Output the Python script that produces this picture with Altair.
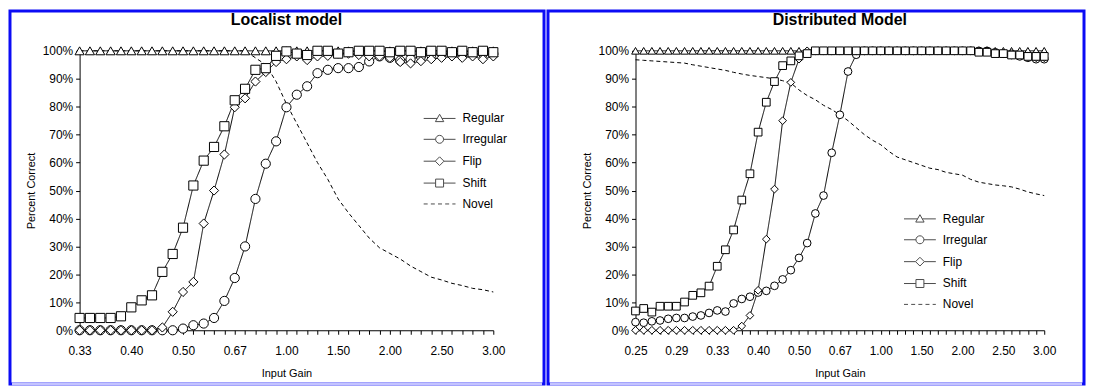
import altair as alt
import pandas as pd

SERIES = ["Regular", "Irregular", "Flip", "Shift", "Novel"]

# x categories: input gain steps (reciprocal steps of 0.1 below 1, steps of 0.1 above 1)
left_gain = [f"{1 / (3.0 - 0.1 * k):.3f}" for k in range(20)] + [f"{1.0 + 0.1 * k:.3f}" for k in range(21)]
right_gain = [f"{1 / (4.0 - 0.1 * k):.3f}" for k in range(30)] + [f"{1.0 + 0.1 * k:.3f}" for k in range(21)]
left_tick_labels = ["0.333", "0.400", "0.500", "0.667", "1.000", "1.500", "2.000", "2.500", "3.000"]
right_tick_labels = ["0.250", "0.286", "0.333", "0.400", "0.500", "0.667", "1.000", "1.500", "2.000", "2.500", "3.000"]

# ---- Localist model (41 points) ----
loc_regular = [100, 100, 100, 100, 100, 100, 100, 100, 100, 100,
               100, 100, 100, 100, 100, 100, 100, 100, 100, 100,
               100, 100, 100, 100, 100, 100, 100, 100, 100, 100,
               100, 100, 100, 100, 100, 100, 100, 100, 100, 100, 100]
loc_irregular = [0, 0, 0, 0, 0, 0, 0, 0, 0, 0,
                 0.6, 1.8, 2.4, 4.4, 10.5, 18.7, 30, 47, 59.6, 67.6,
                 79.8, 84.3, 87.3, 92, 93.2, 93.8, 93.8, 94.2, 96.2, 98,
                 97.5, 96.5, 97, 98, 98.5, 99, 99, 98.5, 99, 99, 99]
loc_flip = [0, 0, 0, 0, 0, 0, 0, 0, 1, 6.6,
            13.7, 17.3, 38.2, 50, 62.9, 79.8, 83, 89, 92.4, 96,
            97, 98, 96.7, 98, 98.2, 99, 99, 98.5, 98, 98,
            97.5, 96, 95.5, 96.3, 97, 97.5, 98, 97.5, 98, 97, 98]
loc_shift = [4.4, 4.4, 4.4, 4.4, 5, 8.2, 10.7, 12.5, 20.9, 27.3,
             36.7, 51.8, 60.7, 65.6, 73, 82.3, 86.4, 93.2, 93.8, 98.2,
             99.8, 99, 98.5, 100, 100, 99, 99.5, 100, 100, 100,
             99.5, 100, 100, 99.5, 100, 100, 99.5, 100, 99.5, 100, 99.5]
loc_novel = [100, 100, 100, 100, 100, 100, 100, 100, 100, 100,
             100, 100, 100, 100, 100, 100, 100, 97.5, 95, 89,
             81, 74, 67, 60, 54, 47, 42, 37.5, 33, 29.5,
             27.5, 25.5, 23, 21, 19, 18, 16.8, 16, 15, 14.5, 13.7]

# ---- Distributed model (51 points) ----
dis_regular = [100, 100, 100, 100, 100, 100, 100, 100, 100, 100,
               100, 100, 100, 100, 100, 100, 100, 100, 100, 100,
               100, 100, 100, 100, 100, 100, 100, 100, 100, 100,
               100, 100, 100, 100, 100, 100, 100, 100, 100, 100,
               100, 100, 100, 100, 100, 100, 100, 100, 100, 100, 100]
dis_irregular = [2.9, 2.7, 3.2, 3.5, 4.1, 4.4, 4.4, 4.9, 5.3, 6.2,
                 7.1, 6.7, 9.6, 11.2, 12, 13.5, 14.1, 15.9, 18.2, 21.5,
                 25.9, 31.2, 41.8, 48.2, 63.5, 77.1, 92.6, 98.6, 100, 100,
                 100, 100, 100, 100, 100, 100, 100, 100, 100, 100,
                 100, 100, 100, 100, 99.5, 99, 98.5, 98, 97.5, 97, 97]
dis_flip = [0, 0, 0, 0, 0, 0, 0, 0, 0, 0,
            0, 0, 0, 1.5, 5.3, 14.3, 32.6, 50.5, 75, 88.7,
            97, 100, 100, 100, 100, 100, 100, 100, 100, 100,
            100, 100, 100, 100, 100, 100, 100, 100, 100, 100,
            100, 100, 100, 100, 99.5, 99, 99, 98.5, 98, 97.5, 97.5]
dis_shift = [6.9, 7.8, 6.5, 8.6, 8.6, 8.6, 10.1, 12.5, 13.4, 15.8,
             22.9, 28.8, 35.9, 46.6, 56, 70.9, 81.6, 89, 94.7, 96.4,
             98.2, 99, 100, 100, 100, 100, 100, 100, 100, 100,
             100, 100, 100, 100, 100, 100, 100, 100, 100, 100,
             100, 100, 99.5, 99.5, 99, 99, 98.5, 98.5, 98, 98, 98]
dis_novel = [96.8, 96.6, 96.4, 96.2, 96, 95.8, 95.6, 95, 94.5, 94,
             93.5, 93, 92.3, 91.7, 91.2, 90.8, 90.4, 90, 89.3, 88.5,
             86, 84, 82.5, 80.5, 79, 77.1, 75, 72.5, 70, 68,
             66.4, 64, 62, 61, 60, 59, 58, 57.5, 56.5, 56,
             55.5, 54, 53, 52.5, 52, 51.7, 51.3, 50.5, 49.5, 48.8, 48.2]

FONT = "Liberation Sans"
BLUE = "#0c0cf5"
PALE = "#c4c4ff"

# legend symbols: a line with the series marker in its middle (unit coordinates)
LEGEND_PATHS = [
    "M-4,0H-0.6M0.6,0H4M0,-1.05L1.05,0.8L-1.05,0.8Z",
    "M-4,0H-1M1,0H4M1,0A1,1,0,1,1,-1,0A1,1,0,1,1,1,0Z",
    "M-4,0H-1.1M1.1,0H4M-1.1,0L0,-1.1L1.1,0L0,1.1Z",
    "M-4,0H-1M1,0H4M-1,-1H1V1H-1Z",
    "M-4,0H-3M-2.2,0H-1.2M-0.4,0H0.6M1.4,0H2.4M3.2,0H4",
]


def long_frame(gains, series_values):
    rows = []
    for name, vals in zip(SERIES, series_values):
        for g, v in zip(gains, vals):
            rows.append({"gain": g, "pct": v, "series": name})
    return pd.DataFrame(rows)


def panel(gains, tick_labels, series_values, title, width, height,
          frame_x, frame_x2, frame_y, frame_y2, leg_x, leg_y, msize):
    df = long_frame(gains, series_values)
    label_list = "[" + ",".join(f"'{t}'" for t in tick_labels) + "]"
    x = alt.X(
        "gain:O",
        scale=alt.Scale(domain=gains, type="point", padding=0),
        axis=alt.Axis(
            title="Input Gain",
            labelAngle=0,
            labelExpr=f"indexof({label_list}, datum.value) >= 0 ? format(toNumber(datum.value), '.2f') : ''",
            labelOverlap=False,
            tickSize=4,
            labelPadding=11,
            titlePadding=12,
        ),
    )
    y = alt.Y(
        "pct:Q",
        scale=alt.Scale(domain=[0, 100], nice=False),
        axis=alt.Axis(
            title="Percent Correct",
            values=[0, 10, 20, 30, 40, 50, 60, 70, 80, 90, 100],
            labelExpr="datum.value + '%'",
            tickSize=4,
            labelPadding=3,
            titlePadding=6,
            grid=False,
        ),
    )
    base = alt.Chart(df)
    lines = base.mark_line(color="black", strokeWidth=1).encode(
        x=x,
        y=y,
        detail="series:N",
        strokeDash=alt.StrokeDash(
            "series:N",
            scale=alt.Scale(domain=SERIES, range=[[1, 0], [1, 0], [1, 0], [1, 0], [4, 3]]),
            legend=None,
        ),
    )
    points = base.transform_filter("datum.series != 'Novel'").mark_point(
        filled=True, fill="white", stroke="black", strokeWidth=1, size=msize, opacity=1
    ).encode(
        x=x,
        y=y,
        shape=alt.Shape(
            "series:N",
            scale=alt.Scale(domain=SERIES[:4], range=["triangle-up", "circle", "diamond", "square"]),
            legend=None,
        ),
    )
    legend_layer = base.transform_filter("false").mark_point(
        filled=False, color="black", strokeWidth=1, size=64
    ).encode(
        shape=alt.Shape(
            "series:N",
            scale=alt.Scale(domain=SERIES, range=LEGEND_PATHS),
            legend=alt.Legend(
                title=None,
                orient="none",
                legendX=leg_x,
                legendY=leg_y,
                labelFont=FONT,
                labelFontSize=12,
                labelColor="black",
                labelOffset=17,
                rowPadding=9,
                symbolSize=64,
                symbolStrokeColor="black",
                symbolStrokeWidth=1,
            ),
        ),
    )
    frame = alt.Chart(alt.Data(values=[{"f": 1}])).mark_rect(
        filled=False, stroke=BLUE, strokeWidth=3, fillOpacity=0
    ).encode(
        x=alt.value(frame_x), x2=alt.value(frame_x2),
        y=alt.value(frame_y), y2=alt.value(frame_y2),
    )
    frame_bottom = alt.Chart(alt.Data(values=[{"f": 1}])).mark_rule(
        color=PALE, strokeWidth=3
    ).encode(
        x=alt.value(frame_x + 2), x2=alt.value(frame_x2 - 2), y=alt.value(frame_y2)
    )
    heading = alt.Chart(alt.Data(values=[{"t": title}])).mark_text(
        font=FONT, fontSize=16, fontWeight="bold", color="black", align="center", baseline="middle"
    ).encode(text="t:N", x=alt.value(width / 2), y=alt.value(-31))
    return alt.layer(lines, points, legend_layer, frame, frame_bottom, heading).resolve_scale(
        shape="independent"
    ).properties(width=width, height=height)


left = panel(left_gain, left_tick_labels,
             [loc_regular, loc_irregular, loc_flip, loc_shift, loc_novel],
             "Localist model", 416, 281,
             -70, 467, -40, 335, 356, 62, 85)
right = panel(right_gain, right_tick_labels,
              [dis_regular, dis_irregular, dis_flip, dis_shift, dis_novel],
              "Distributed Model", 411, 281,
              -88, 451, -40, 335, 280, 163, 60)

chart = alt.hconcat(left, right, spacing=0).resolve_legend(shape="independent").properties(
    padding=0, background="white"
).configure_view(strokeWidth=0).configure_axis(
    domainColor="black", tickColor="black", labelColor="black", titleColor="black",
    labelFont=FONT, labelFontSize=12, titleFont=FONT, titleFontSize=11, titleFontWeight="normal",
)

chart.save("out.html", embed_options={"renderer": "svg", "actions": False})
